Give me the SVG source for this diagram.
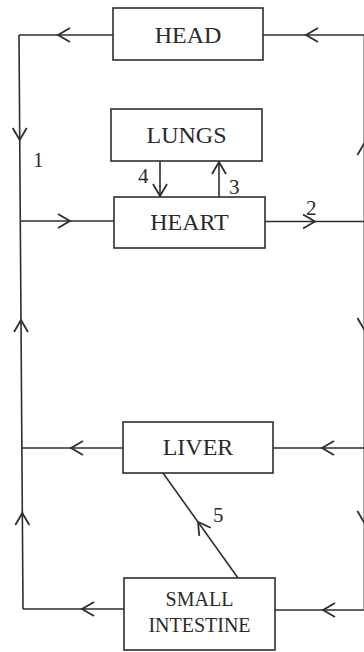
<svg xmlns="http://www.w3.org/2000/svg" xmlns:xlink="http://www.w3.org/1999/xlink" width="364" height="652" viewBox="0 0 364 652">
  <style>
    .box { fill: #ffffff; stroke: #2e2e2e; stroke-width: 1.6; }
    .ln { fill: none; stroke: #2e2e2e; stroke-width: 1.6; }
    .lbl { font-family: "Liberation Serif", "Times New Roman", serif; fill: #2a2a2a; text-anchor: middle; }
    .big { font-size: 24px; }
    .mid { font-size: 20px; }
    .num { font-family: "Liberation Serif", "Times New Roman", serif; fill: #2a2a2a; font-size: 21px; }
  </style>
  <defs>
    <path id="chev" d="M-12,-7 L0,0 L-12,7" fill="none" stroke="#2e2e2e" stroke-width="1.8" stroke-linejoin="miter"/>
  </defs>
  <rect width="364" height="652" fill="#ffffff"/>

  <g id="connectors">
    <!-- top -->
    <path class="ln" d="M364.5,35 L263,35"/>
    <use xlink:href="#chev" transform="translate(306,35) rotate(180)"/>
    <path class="ln" d="M113,35 L19,35"/>
    <use xlink:href="#chev" transform="translate(58,35) rotate(180)"/>
    <!-- left vertical -->
    <path class="ln" d="M19,35 L23,609"/>
    <use xlink:href="#chev" transform="translate(19.7,140) rotate(90)"/>
    <use xlink:href="#chev" transform="translate(21,320) rotate(-90)"/>
    <use xlink:href="#chev" transform="translate(22.3,513) rotate(-90)"/>
    <!-- right vertical (at the edge of the picture) -->
    <path class="ln" d="M364.4,35 L364.4,610"/>
    <use xlink:href="#chev" transform="translate(364.4,143) rotate(-90)"/>
    <use xlink:href="#chev" transform="translate(364.4,330) rotate(90)"/>
    <use xlink:href="#chev" transform="translate(364.4,523) rotate(90)"/>
    <!-- heart -->
    <path class="ln" d="M20.3,221 L114,221"/>
    <use xlink:href="#chev" transform="translate(70,221)"/>
    <path class="ln" d="M265,221.5 L364.5,221.5"/>
    <use xlink:href="#chev" transform="translate(315,221.5)"/>
    <!-- lungs-heart -->
    <path class="ln" d="M160,161 L160,197"/>
    <use xlink:href="#chev" transform="translate(160,196) rotate(90)"/>
    <path class="ln" d="M219,197 L219,161"/>
    <use xlink:href="#chev" transform="translate(219,162) rotate(-90)"/>
    <!-- liver -->
    <path class="ln" d="M123,448 L21.9,448"/>
    <use xlink:href="#chev" transform="translate(71,448) rotate(180)"/>
    <path class="ln" d="M364.5,448 L273,448"/>
    <use xlink:href="#chev" transform="translate(322,448) rotate(180)"/>
    <!-- small intestine to liver -->
    <path class="ln" d="M238,578 L163,473"/>
    <use xlink:href="#chev" transform="translate(198,522) rotate(-125.5)"/>
    <!-- small intestine -->
    <path class="ln" d="M124,609 L23,609"/>
    <use xlink:href="#chev" transform="translate(82,609) rotate(180)"/>
    <path class="ln" d="M364.5,610 L275,610"/>
    <use xlink:href="#chev" transform="translate(323,610) rotate(180)"/>
  </g>

  <g id="head">
    <rect class="box" x="113" y="8" width="150" height="52"/>
    <text class="lbl big" x="188" y="43">HEAD</text>
  </g>
  <g id="lungs">
    <rect class="box" x="111" y="109" width="151" height="52"/>
    <text class="lbl big" x="186.5" y="143">LUNGS</text>
  </g>
  <g id="heart">
    <rect class="box" x="114" y="197" width="151" height="51"/>
    <text class="lbl big" x="189.5" y="230">HEART</text>
  </g>
  <g id="liver">
    <rect class="box" x="123" y="422" width="150" height="51"/>
    <text class="lbl big" x="198" y="455">LIVER</text>
  </g>
  <g id="small-intestine">
    <rect class="box" x="124" y="578" width="151" height="72"/>
    <text class="lbl mid" x="199.5" y="606">SMALL</text>
    <text class="lbl mid" x="199.5" y="632">INTESTINE</text>
  </g>

  <g id="labels">
    <text class="num" x="33" y="167">1</text>
    <text class="num" x="306" y="215">2</text>
    <text class="num" x="229" y="194">3</text>
    <text class="num" x="138" y="183">4</text>
    <text class="num" x="213" y="522">5</text>
  </g>
</svg>
